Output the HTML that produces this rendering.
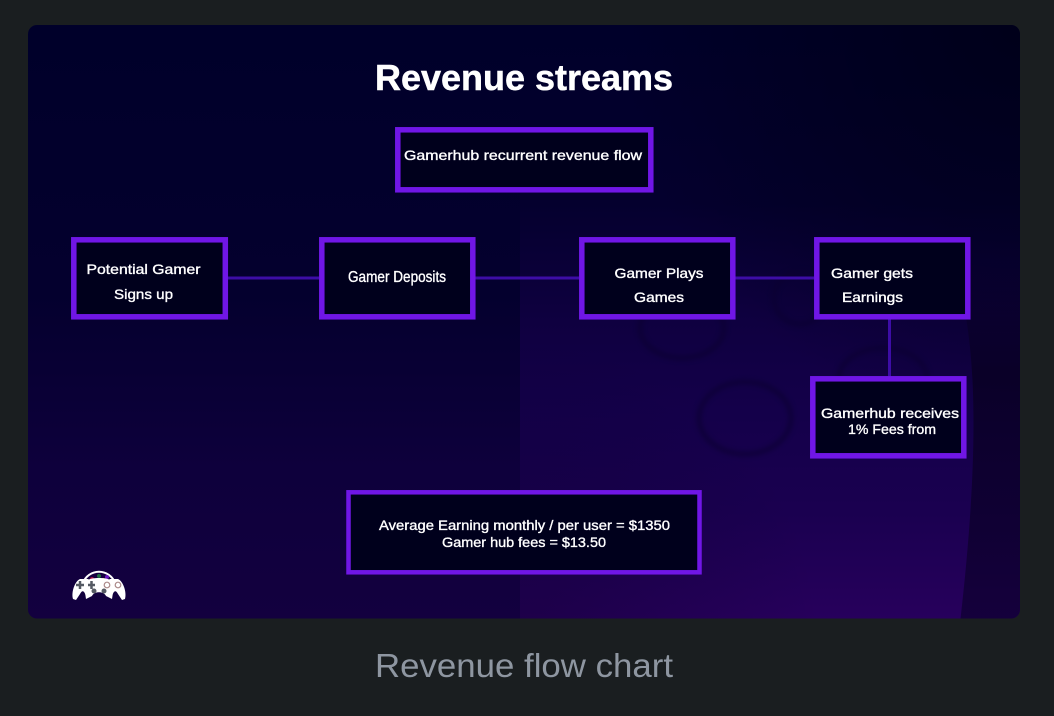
<!DOCTYPE html>
<html lang="en">
<head>
<meta charset="utf-8">
<title>Revenue flow chart</title>
<style>
html,body{margin:0;padding:0;width:1054px;height:716px;overflow:hidden;background:#1a1e20}
svg{display:block}
text{font-family:"Liberation Sans",sans-serif}
.l{fill:#fff;font-size:14px;stroke:#fff;stroke-width:.35px}
.b{fill:#02001f;stroke:#6f17e6;stroke-width:5.500}
.c{stroke:#3d0ea6;stroke-width:3}
</style>
</head>
<body>
<svg width="1054" height="716" viewBox="0 0 1054 716" xmlns="http://www.w3.org/2000/svg">
<defs>
<linearGradient id="lg" x1="0" y1="0" x2="0" y2="1">
<stop offset="0" stop-color="#00002a"/>
<stop offset=".45" stop-color="#04002e"/>
<stop offset=".75" stop-color="#0e003c"/>
<stop offset="1" stop-color="#13003f"/>
</linearGradient>
<linearGradient id="rg" x1="0" y1="0" x2="0" y2="1">
<stop offset="0" stop-color="#00002a"/>
<stop offset=".3" stop-color="#04002e"/>
<stop offset=".5" stop-color="#0f0040"/>
<stop offset=".65" stop-color="#14004a"/>
<stop offset=".82" stop-color="#1a0050"/>
<stop offset="1" stop-color="#27005c"/>
</linearGradient>
<radialGradient id="tr" gradientUnits="userSpaceOnUse" cx="1020" cy="25" r="400">
<stop offset="0" stop-color="#000018" stop-opacity=".9"/>
<stop offset="1" stop-color="#000018" stop-opacity="0"/>
</radialGradient>
<radialGradient id="lf" gradientUnits="userSpaceOnUse" cx="520" cy="640" r="300">
<stop offset="0" stop-color="#05001c" stop-opacity=".3"/>
<stop offset="1" stop-color="#05001c" stop-opacity="0"/>
</radialGradient>
<linearGradient id="band" gradientUnits="userSpaceOnUse" x1="0" y1="260" x2="0" y2="640">
<stop offset="0" stop-color="#08001f" stop-opacity="0"/>
<stop offset=".3" stop-color="#08001f" stop-opacity=".75"/>
<stop offset="1" stop-color="#0e0030" stop-opacity=".7"/>
</linearGradient>
<clipPath id="s"><rect x="28" y="25" width="992" height="593.500" rx="9"/></clipPath>
<filter id="soft" x="-5%" y="-5%" width="110%" height="110%"><feGaussianBlur stdDeviation=".35"/></filter>
<filter id="bg" x="-20%" y="-20%" width="140%" height="140%" color-interpolation-filters="sRGB"><feGaussianBlur stdDeviation="2.500"/></filter>
</defs>

<g clip-path="url(#s)">
<rect x="28" y="25" width="492" height="594" fill="url(#lg)"/>
<rect x="520" y="25" width="500" height="594" fill="url(#rg)"/>
<rect x="520" y="25" width="500" height="594" fill="url(#tr)"/>
<rect x="520" y="300" width="320" height="319" fill="url(#lf)"/>
<path d="M950 260 C985 340 975 500 958 640 L1040 640 L1040 260 Z" fill="url(#band)"/>
<g filter="url(#bg)" fill="none" stroke="#0b0030" stroke-width="5" opacity=".6">
<ellipse cx="745" cy="418" rx="46" ry="36"/>
<ellipse cx="883" cy="378" rx="44" ry="30"/>
<ellipse cx="682" cy="328" rx="42" ry="30"/>
<ellipse cx="800" cy="298" rx="26" ry="26"/>
</g>
</g>

<g filter="url(#soft)">
<g class="c">
<line x1="228" y1="278" x2="319" y2="278"/>
<line x1="475" y1="278" x2="579" y2="278"/>
<line x1="735" y1="278" x2="814" y2="278"/>
<line x1="889.500" y1="319" x2="889.500" y2="376"/>
</g>
<rect class="b" x="397.800" y="129.800" width="253" height="60"/>
<rect class="b" x="73.800" y="239.800" width="151.500" height="77"/>
<rect class="b" x="321.800" y="239.800" width="151" height="77"/>
<rect class="b" x="581.800" y="239.800" width="151" height="77"/>
<rect class="b" x="816.800" y="239.800" width="151" height="77"/>
<rect class="b" x="812.800" y="378.800" width="151" height="77"/>
<rect class="b" x="348.500" y="492.300" width="351" height="80" style="stroke-width:4.500"/>

<text x="375" y="90" font-size="36" font-weight="700" fill="#fff" stroke="#fff" stroke-width=".5" textLength="298" lengthAdjust="spacingAndGlyphs">Revenue streams</text>
<text class="l" x="404" y="160" textLength="238" lengthAdjust="spacingAndGlyphs">Gamerhub recurrent revenue flow</text>
<text class="l" x="86.500" y="274" textLength="114" lengthAdjust="spacingAndGlyphs">Potential Gamer</text>
<text class="l" x="114" y="299" textLength="59" lengthAdjust="spacingAndGlyphs">Signs up</text>
<text class="l" x="348" y="282" textLength="98" lengthAdjust="spacingAndGlyphs" style="font-size:16px">Gamer Deposits</text>
<text class="l" x="614.500" y="278" textLength="89" lengthAdjust="spacingAndGlyphs">Gamer Plays</text>
<text class="l" x="634" y="302" textLength="50" lengthAdjust="spacingAndGlyphs">Games</text>
<text class="l" x="831" y="278" textLength="82" lengthAdjust="spacingAndGlyphs">Gamer gets</text>
<text class="l" x="842" y="302" textLength="61" lengthAdjust="spacingAndGlyphs">Earnings</text>
<text class="l" x="821" y="418" textLength="138" lengthAdjust="spacingAndGlyphs">Gamerhub receives</text>
<text class="l" x="848" y="434" textLength="88" lengthAdjust="spacingAndGlyphs">1% Fees from</text>
<text class="l" x="379" y="530" textLength="291" lengthAdjust="spacingAndGlyphs">Average Earning monthly / per user = $1350</text>
<text class="l" x="442" y="547" textLength="164" lengthAdjust="spacingAndGlyphs">Gamer hub fees = $13.50</text>

<!-- logo -->
<g>
<path d="M83 583 A17 17 0 0 1 115 583" fill="#12003f" stroke="#fff" stroke-width="2"/>
<circle cx="92" cy="579" r="2" fill="#a01040"/>
<circle cx="99" cy="576" r="2" fill="#207040"/>
<circle cx="103" cy="580" r="2" fill="#c08a20"/>
<circle cx="107" cy="577" r="2" fill="#6a18c0"/>
<path d="M73 599 C71 592 75 581 80 579 L88 579 C92 581 92 584 91 590 L86 596 C84 590 82 590 80 594 L76 600 Z" fill="#fff"/>
<path d="M125 599 C127 592 123 581 118 579 L110 579 C106 581 106 584 107 590 L112 596 C114 590 116 590 118 594 L122 600 Z" fill="#fff"/>
<path d="M84 586 C84 580 90 578 99 578 C108 578 114 580 114 586 L112 599 L106 596 C104 591 94 591 92 596 L86 599 Z" fill="#fff"/>
<path d="M76 585h8M80 581v8M88 585h7M91.500 581v8" stroke="#555a64" stroke-width="2.500"/>
<circle cx="94" cy="591" r="2.500" fill="#555a64"/><circle cx="104" cy="591" r="2.500" fill="#555a64"/>
<circle cx="107" cy="585" r="2.800" fill="none" stroke="#a88" stroke-width="1.200"/>
<circle cx="118" cy="585" r="2.800" fill="none" stroke="#a88" stroke-width="1.200"/>
</g>

<text x="375" y="677" font-size="33" fill="#8e96a1" textLength="298" lengthAdjust="spacingAndGlyphs">Revenue flow chart</text>
</g>
</svg>
</body>
</html>
